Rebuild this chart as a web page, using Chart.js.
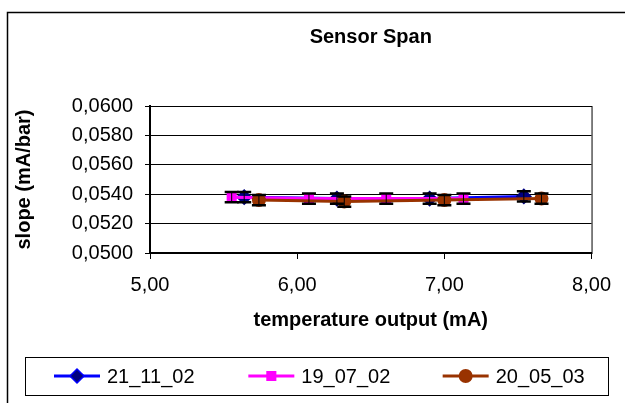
<!DOCTYPE html>
<html>
<head>
<meta charset="utf-8">
<script src="https://cdn.jsdelivr.net/npm/chart.js@4"></script>
<style>
  html, body { margin: 0; padding: 0; background: #fff; }
  #chartDiv { width: 625px; height: 403px; }
</style>
</head>
<body>
<div id="chartDiv"><canvas id="myChart"></canvas></div>
<script>
// tick labels
const xTicks = [5, 6, 7, 8];
const yTicks = [0.05, 0.052, 0.054, 0.056, 0.058, 0.06];

// series
const seriesNames = ["21_11_02", "19_07_02", "20_05_03"];
const x211102 = [5.64, 6.27, 6.90, 7.54];
const y211102 = [0.0538, 0.0537, 0.0537, 0.05385];
const x190702 = [5.555, 6.08, 6.605, 7.13];
const y190702 = [0.0538, 0.0537, 0.0537, 0.0537];
const x200503 = [5.74, 6.32, 7.00, 7.66];
const y200503 = [0.0536, 0.0535, 0.0536, 0.0537];
const errBar = [0.00035, 0.00035, 0.00035];

const FONT = "'Liberation Sans', Arial, sans-serif";

function pts(xs, ys) {
  return xs.map((x, i) => ({ x: x, y: ys[i] }));
}
function comma(v, d) {
  return v.toFixed(d).replace(".", ",");
}

// error bars, plot border, legend box
const extras = {
  id: "extras",
  beforeDatasetsDraw(chart) {
    const a = chart.chartArea;
    const c = chart.ctx;
    c.save();
    c.strokeStyle = "#000";
    c.lineWidth = 1;
    c.strokeRect(a.left + 0.5, a.top + 0.5, a.right - a.left, a.bottom - a.top);
    c.restore();
  },
  afterDatasetsDraw(chart) {
    const c = chart.ctx;
    const ys = chart.scales.y, xs = chart.scales.x;
    c.save();
    c.strokeStyle = "#000";
    chart.data.datasets.forEach((ds, i) => {
      ds.data.forEach(p => {
        const px = xs.getPixelForValue(p.x);
        const top = ys.getPixelForValue(p.y + errBar[i]);
        const bot = ys.getPixelForValue(p.y - errBar[i]);
        c.lineWidth = 1;
        c.beginPath();
        c.moveTo(px, top); c.lineTo(px, bot);
        c.stroke();
        c.lineWidth = 2.5;
        c.beginPath();
        c.moveTo(px - 7, top); c.lineTo(px + 7, top);
        c.moveTo(px - 7, bot); c.lineTo(px + 7, bot);
        c.stroke();
      });
    });
    c.restore();
  },
  afterDraw(chart) {
    const c = chart.ctx;
    c.save();
    // outer frame
    c.strokeStyle = "#000";
    c.lineWidth = 1.5;
    c.strokeRect(7.5, 12.5, 640, 420);
    // legend
    const lx = 25, ly = 357, lw = 583, lh = 38;
    c.lineWidth = 1;
    c.strokeRect(lx + 0.5, ly + 0.5, lw, lh);
    const col = lw / chart.data.datasets.length;
    const cy = ly + lh / 2;
    chart.data.datasets.forEach((ds, i) => {
      const x0 = lx + col * i + 29;
      c.strokeStyle = ds.borderColor;
      c.lineWidth = 3;
      c.beginPath();
      c.moveTo(x0, cy); c.lineTo(x0 + 46, cy);
      c.stroke();
      Chart.helpers.drawPoint(c, {
        pointStyle: ds.pointStyle, radius: ds.pointRadius, borderWidth: 1
      }, x0 + 23, cy);
      c.fillStyle = ds.pointBackgroundColor;
      c.strokeStyle = ds.pointBorderColor;
      c.fill();
      c.fillStyle = "#000";
      c.font = "20px " + FONT;
      c.textBaseline = "middle";
      c.textAlign = "left";
      c.fillText(ds.label, x0 + 53, cy + 1);
    });
    c.restore();
  }
};

const ctx = document.getElementById("myChart");

new Chart(ctx, {
  type: "line",
  data: {
    datasets: [
      {
        label: seriesNames[0],
        data: pts(x211102, y211102),
        borderColor: "#0000ff",
        borderWidth: 3,
        pointStyle: "rectRot",
        pointRadius: 6,
        pointBackgroundColor: "#000080",
        pointBorderColor: "#000080",
        order: 3,
      },
      {
        label: seriesNames[1],
        data: pts(x190702, y190702),
        borderColor: "#ff00ff",
        borderWidth: 3,
        pointStyle: "rect",
        pointRadius: 5,
        pointBackgroundColor: "#ff00ff",
        pointBorderColor: "#ff00ff",
        order: 2,
      },
      {
        label: seriesNames[2],
        data: pts(x200503, y200503),
        borderColor: "#993300",
        borderWidth: 3,
        pointStyle: "circle",
        pointRadius: 5.5,
        pointBackgroundColor: "#993300",
        pointBorderColor: "#993300",
        order: 1,
      },
    ],
  },
  options: {
    responsive: true,
    maintainAspectRatio: false,
    animation: false,
    layout: { padding: { left: 7, top: 12, right: 21, bottom: 46 } },
    plugins: {
      legend: { display: false },
      tooltip: { enabled: false },
      title: {
        display: true,
        fullSize: false,
        text: "Sensor Span",
        color: "#000",
        font: { family: FONT, size: 20, weight: "bold" },
        padding: { top: 13, bottom: 57 },
      },
    },
    scales: {
      x: {
        type: "linear",
        min: 5,
        max: 8,
        afterBuildTicks: s => { s.ticks = xTicks.map(v => ({ value: v })); },
        afterFit: s => { s.height = 104; },
        grid: { drawOnChartArea: false, tickLength: 6, color: "#000" },
        border: { color: "#000", width: 2 },
        ticks: {
          color: "#000",
          padding: 14,
          font: { family: FONT, size: 20 },
          callback: v => comma(v, 2),
        },
        title: {
          display: true,
          text: "temperature output (mA)",
          color: "#000",
          font: { family: FONT, size: 20, weight: "bold" },
          padding: { top: 0, bottom: 25 },
        },
      },
      y: {
        type: "linear",
        min: 0.05,
        max: 0.06,
        afterBuildTicks: s => { s.ticks = yTicks.map(v => ({ value: v })); },
        afterFit: s => { s.width = 143; },
        grid: { color: "#000", tickLength: 5 },
        border: { color: "#000", width: 2 },
        ticks: {
          color: "#000",
          padding: 12,
          font: { family: FONT, size: 20 },
          callback: v => comma(v, 4),
        },
        title: {
          display: true,
          text: "slope (mA/bar)",
          color: "#000",
          font: { family: FONT, size: 20, weight: "bold" },
          padding: { top: 5, bottom: 0 },
        },
      },
    },
  },
  plugins: [extras],
});
</script>
</body>
</html>
